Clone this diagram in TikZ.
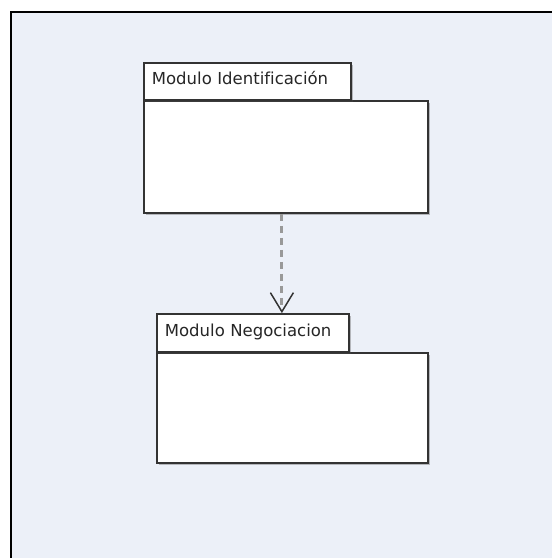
\documentclass[tikz,border=0pt]{standalone}
\usepackage{fontspec}
\setmainfont[Ligatures=NoCommon]{DejaVu Sans}
\usetikzlibrary{arrows.meta,shadows}
\definecolor{canvasbg}{HTML}{ECF0F8}
\definecolor{edge}{HTML}{333333}
\definecolor{dashgray}{HTML}{999999}
\tikzset{
  pkgshadow/.style={drop shadow={shadow xshift=2pt,shadow yshift=-2pt,opacity=0.35,fill=black!70}},
  pkgtab/.style={draw=edge,fill=white,line width=1.8pt,inner xsep=8pt,inner ysep=0pt,
    text depth=16pt,align=left,text=black!85,
    font=\fontsize{16.5}{20}\selectfont,pkgshadow},
  pkgbody/.style={draw=edge,fill=white,line width=1.8pt,inner sep=0pt,anchor=north west,pkgshadow},
  depend/.style={dashgray,line width=3pt,dash pattern=on 7pt off 5pt,
    -{Straight Barb[length=19pt,width=23pt,line width=1.5pt,color=edge,sep=0pt]}}
}
\begin{document}
\begin{tikzpicture}[x=1pt,y=-1pt]
  \useasboundingbox (0,0) rectangle (552,558);
  % canvas with its frame
  \fill[white] (0,0) rectangle (552,558);
  \fill[canvasbg] (11,12) rectangle (552,558);
  \draw[black,line width=2.5pt] (11,558) -- (11,12) -- (552,12);

  % package: Modulo Identificación
  \node[pkgbody,minimum width=284pt,minimum height=112pt] (b1) at (143,100) {};
  \node[pkgtab,anchor=base west,text height=21pt,text width=191pt] (t1) at (143,84) {Modulo Identificación};

  % package: Modulo Negociacion
  \node[pkgbody,minimum width=271pt,minimum height=110pt] (b2) at (156,352) {};
  \node[pkgtab,anchor=base west,text height=22pt,text width=176pt] (t2) at (156,336) {Modulo Negociacion};

  % dependency
  \draw[depend] ([xshift=-4pt]b1.south) -- ([xshift=-4pt]b1.south |- t2.north);
\end{tikzpicture}
\end{document}
